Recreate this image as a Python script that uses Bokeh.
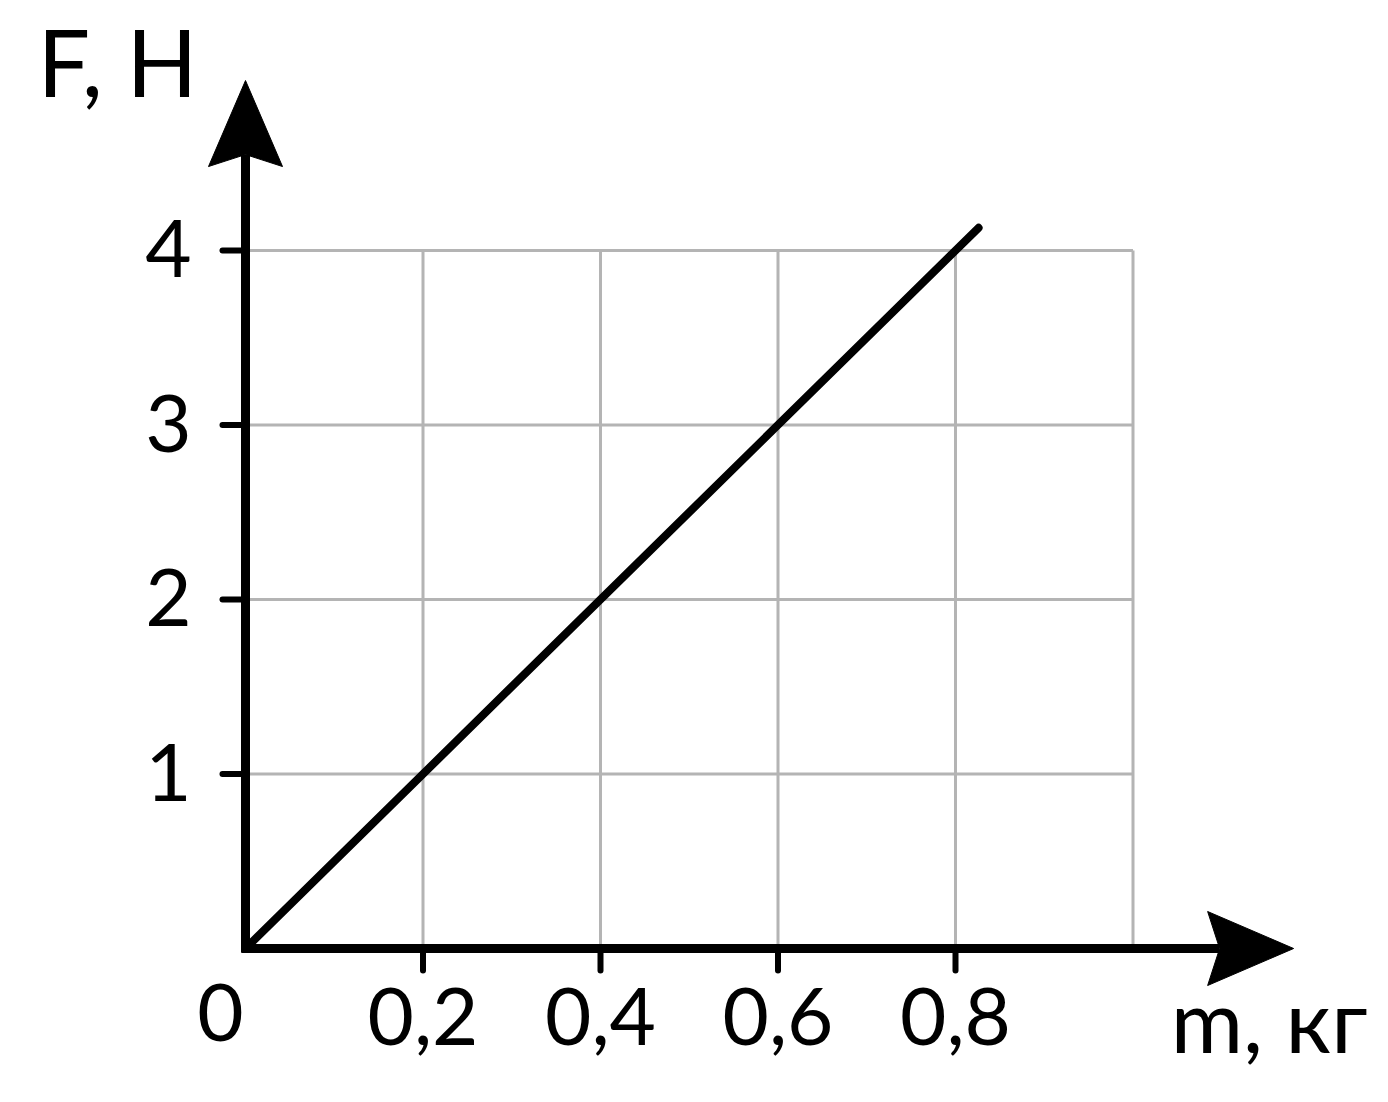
from bokeh.plotting import figure
from bokeh.embed import file_html
from bokeh.resources import INLINE
from bokeh.core.properties import value

# ---- data ----
m_grid = [0.2, 0.4, 0.6, 0.8, 1.0]          # vertical grid lines (kg)
F_grid = [1, 2, 3, 4]                        # horizontal grid lines (N)
m_tick_labels = ["0,2", "0,4", "0,6", "0,8"]
m_label_pos = [0.2, 0.4, 0.6, 0.8]
F_tick_labels = ["1", "2", "3", "4"]
line_m = [0.0, 0.826]
line_F = [0.0, 4.13]
m_max = 1.0
F_max = 4

# ---- layout (pixel scale) ----
W, H = 1372, 1086
ox, oy = 245.0, 948.0        # canvas pixel of origin
sx, sy = 887.5, 174.5        # pixels per unit
x0, x1 = -ox / sx, (W - ox) / sx
y0, y1 = -(H - oy) / sy, oy / sy

FONT = "Lato"
p = figure(width=W, height=H, x_range=(x0, x1), y_range=(y0, y1),
           output_backend="svg", toolbar_location=None,
           x_axis_location=None, y_axis_location=None,
           min_border=0, outline_line_color=None)
p.xgrid.visible = False
p.ygrid.visible = False

def px_x(d):
    return d / sx
def px_y(d):
    return d / sy

grid_col = "#b4b4b4"
# vertical grid
p.segment(x0=m_grid, y0=[0] * len(m_grid), x1=m_grid, y1=[F_max] * len(m_grid),
          line_color=grid_col, line_width=3)
# horizontal grid
p.segment(x0=[0] * len(F_grid), y0=F_grid, x1=[m_max] * len(F_grid), y1=F_grid,
          line_color=grid_col, line_width=3)

# ticks
p.segment(x0=m_label_pos, y0=[0] * 4, x1=m_label_pos, y1=[-px_y(22)] * 4,
          line_color="black", line_width=6, line_cap="round")
p.segment(x0=[-px_x(23)] * 4, y0=F_grid, x1=[0] * 4, y1=F_grid,
          line_color="black", line_width=6, line_cap="round")

# axes
x_tip = 1.181
y_tip = 4.974
alen = 86
ahalf = 37
notch = 12
p.line([-px_x(4), x_tip - px_x(alen - notch)], [0, 0], line_color="black", line_width=9)
p.line([0, 0], [-px_y(4), y_tip - px_y(alen - notch)], line_color="black", line_width=9)

# arrowheads
p.patch([x_tip, x_tip - px_x(alen), x_tip - px_x(alen - notch), x_tip - px_x(alen)],
        [0, px_y(ahalf), 0, -px_y(ahalf)], fill_color="black", line_color="black", line_width=1)
p.patch([0, px_x(ahalf), 0, -px_x(ahalf)],
        [y_tip, y_tip - px_y(alen), y_tip - px_y(alen - notch), y_tip - px_y(alen)],
        fill_color="black", line_color="black", line_width=1)

# data line
p.line(line_m, line_F, line_color="black", line_width=8, line_cap="round")

# tick labels
p.text(x=m_label_pos, y=[-px_y(68)] * 4, text=m_tick_labels, text_font=value(FONT),
       text_font_size="80px", text_align="center", text_baseline="middle", text_color="black")
p.text(x=[-px_x(77)] * 4, y=[f + px_y(2) for f in F_grid], text=F_tick_labels, text_font=value(FONT),
       text_font_size="80px", text_align="center", text_baseline="middle", text_color="black")
p.text(x=[-px_x(25)], y=[-px_y(64)], text=["0"], text_font=value(FONT),
       text_font_size="80px", text_align="center", text_baseline="middle", text_color="black")

# axis titles
p.text(x=[-px_x(208)], y=[px_y(oy - 60)], text=["F, H"], text_font=value(FONT),
       text_font_size="93px", text_align="left", text_baseline="middle", text_color="black")
p.text(x=[px_x(W - 5 - ox)], y=[-px_y(70)], text=["m, кг"], text_font=value(FONT),
       text_font_size="88px", text_align="right", text_baseline="middle", text_color="black")

open("out.html", "w").write(file_html(p, INLINE))
